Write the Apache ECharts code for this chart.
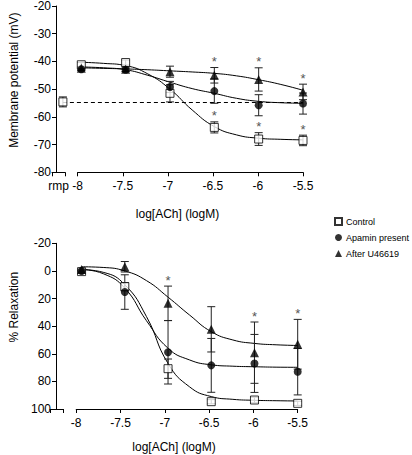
<!DOCTYPE html>
<html><head><meta charset="utf-8">
<script src="https://cdn.jsdelivr.net/npm/echarts@6/dist/echarts.min.js"></script>
<style>html,body{margin:0;padding:0;background:#fff}#c{width:412px;height:455px}</style>
</head><body><div id="c"></div>
<script>
// ---------- data ----------
const X_TICKS = [-8, -7.5, -7, -6.5, -6, -5.5];
const CURVE_X = [-8, -7.75, -7.5, -7.25, -7, -6.75, -6.5, -6.25, -6, -5.75, -5.5];
const SERIES_NAMES = ['Control', 'Apamin present', 'After U46619'];

// top panel: membrane potential (mV)
const RMP_VAL = -54.6, RMP_ERR = 1.8;
const ctrlMV = [-41.2, -40.4, -51.5, -63.8, -68.0, -68.5];
const ctrlMVErr = [0.8, 0.9, 3.1, 2.0, 2.3, 1.9];
const apaMV = [-42.8, -43.0, -49.2, -50.7, -55.8, -55.2];
const apaMVErr = [0.5, 0.6, 2.0, 4.4, 3.8, 3.8];
const trMV = [-42.5, -42.8, -43.7, -45.0, -46.5, -51.0];
const trMVErr = [0.6, 0.8, 2.0, 2.8, 4.2, 2.8];
const ctrlMVCurve = [-40.3, -40.7, -41.5, -44.5, -50.0, -57.5, -63.5, -66.5, -67.7, -68.1, -68.3];
const apaMVCurve = [-42.0, -42.3, -43.0, -45.0, -47.5, -49.8, -51.5, -53.3, -54.4, -54.9, -55.1];
const trMVCurve = [-42.3, -42.5, -42.7, -43.0, -43.4, -43.8, -44.3, -45.2, -46.6, -48.3, -50.4];
const ctrlMVStar = [0, 0, 0, 1, 1, 1];
const trMVStar = [0, 0, 0, 1, 1, 1];

// bottom panel: % relaxation
const ctrlR = [0.5, 11.4, 70.8, 94.7, 93.5, 95.9];
const ctrlRErr = [1, 3, 7, 1.5, 2, 1.5];
const apaR = [0, 15.3, 58.9, 68.4, 67.0, 73.0];
const apaRErr = [0.5, 12.5, 23, 19.5, 21, 16.8];
const trR = [-1, -3.0, 23.5, 42.3, 59.2, 53.1];
const trRErr = [0.5, 3.8, 12.5, 16.4, 22.2, 18];
const ctrlRCurve = [-1, 1, 10, 33, 67, 84, 91, 93, 93.7, 94, 94.2];
const apaRCurve = [-1, 2, 12.5, 36, 56, 64.5, 68, 69, 69.4, 69.7, 69.8];
const trRCurve = [-3, -2.5, 0, 7, 19, 32, 44, 50, 52.5, 53.5, 54];
const trRStar = [0, 0, 1, 0, 1, 1];

const TOP_Y_TICKS = {min: -80, max: -20, interval: 10};
const BOT_Y_TICKS = {min: -20, max: 100, interval: 20};

// ---------- layout ----------
const FONT = 'Liberation Sans';
const TOP_MIN = -8.2852;   // x value at the y-axis line (top panel)
const RMP_X = -8.2075;     // x position of the rmp point
const BOT_MIN = -8.296;

const zip = (xs, ys) => xs.map((x, i) => [x, ys[i]]);
const errData = (vals, errs, stars) => X_TICKS.map((x, i) => [x, vals[i], errs[i], stars ? stars[i] : 0]);

function errorBarRender(params, api) {
  const x = api.value(0), y = api.value(1), e = api.value(2), star = api.value(3);
  const p1 = api.coord([x, y - e]), p2 = api.coord([x, y + e]);
  const top = Math.min(p1[1], p2[1]), bot = Math.max(p1[1], p2[1]);
  const cx = p1[0], w = 4;
  const st = {stroke: '#222', lineWidth: 1};
  const children = [
    {type: 'line', shape: {x1: cx, y1: top, x2: cx, y2: bot}, style: st},
    {type: 'line', shape: {x1: cx - w, y1: top, x2: cx + w, y2: top}, style: st},
    {type: 'line', shape: {x1: cx - w, y1: bot, x2: cx + w, y2: bot}, style: st}
  ];
  if (star) {
    children.push({type: 'text', x: cx, y: top - 6,
      style: {text: '*', fill: '#555', font: '13px ' + FONT, align: 'center', verticalAlign: 'middle'}});
  }
  return {type: 'group', children};
}

const markerStyles = [
  {symbol: 'rect', symbolSize: 8, itemStyle: {color: '#fff', borderColor: '#000', borderWidth: 1}},
  {symbol: 'circle', symbolSize: 8, itemStyle: {color: '#000'}},
  {symbol: 'triangle', symbolSize: 9, itemStyle: {color: '#000'}}
];

function panelSeries(xi, yi, vals, errs, curves, stars) {
  const out = [];
  for (let k = 0; k < 3; k++) {
    out.push({type: 'line', name: SERIES_NAMES[k] + ' fit', xAxisIndex: xi, yAxisIndex: yi,
      data: zip(CURVE_X, curves[k]), smooth: 0.5, showSymbol: false, symbol: 'none',
      lineStyle: {color: '#000', width: 1}, z: 2, silent: true});
    out.push({type: 'custom', name: SERIES_NAMES[k] + ' err', xAxisIndex: xi, yAxisIndex: yi,
      data: errData(vals[k], errs[k], stars[k]), renderItem: errorBarRender,
      encode: {x: 0, y: 1}, z: 3, silent: true});
    out.push(Object.assign({type: 'scatter', name: SERIES_NAMES[k], xAxisIndex: xi, yAxisIndex: yi,
      data: zip(X_TICKS, vals[k]), z: 4}, markerStyles[k]));
  }
  return out;
}

const axisLabelStyle = {color: '#000', fontFamily: FONT, fontSize: 12};
const axisLineStyle = {show: true, onZero: false, lineStyle: {color: '#000', width: 1}};
const axisTickStyle = {show: true, length: 4, lineStyle: {color: '#000'}};

const option = {
  animation: false,
  backgroundColor: '#fff',
  grid: [
    {left: 52, right: 109, top: 5.5, bottom: 282.7},
    {left: 52, right: 347, top: 5.5, bottom: 282.7},
    {left: 77.7, right: 109, top: 5.5, bottom: 282.7},
    {left: 50, right: 114.3, top: 243.3, bottom: 46},
    {left: 50, right: 349, top: 243.3, bottom: 46},
    {left: 76.2, right: 114.3, top: 243.3, bottom: 46}
  ],
  xAxis: [
    {gridIndex: 0, type: 'value', min: TOP_MIN, max: -5.5, show: false},
    {gridIndex: 1, type: 'category', data: ['rmp'], axisLine: axisLineStyle, axisTick: axisTickStyle,
      axisLabel: Object.assign({margin: 8}, axisLabelStyle)},
    {gridIndex: 2, type: 'value', min: -8, max: -5.5, interval: 0.5, axisLine: axisLineStyle,
      axisTick: axisTickStyle, splitLine: {show: false}, axisLabel: Object.assign({margin: 8}, axisLabelStyle)},
    {gridIndex: 3, type: 'value', min: BOT_MIN, max: -5.5, show: false},
    {gridIndex: 4, type: 'category', data: [''], axisLine: axisLineStyle, axisTick: axisTickStyle,
      axisLabel: {show: false}},
    {gridIndex: 5, type: 'value', min: -8, max: -5.5, interval: 0.5, axisLine: axisLineStyle,
      axisTick: axisTickStyle, splitLine: {show: false}, axisLabel: Object.assign({margin: 8}, axisLabelStyle)}
  ],
  yAxis: [
    {gridIndex: 0, type: 'value', min: TOP_Y_TICKS.min, max: TOP_Y_TICKS.max, interval: TOP_Y_TICKS.interval,
      axisLine: axisLineStyle, axisTick: axisTickStyle, splitLine: {show: false},
      axisLabel: Object.assign({margin: 5}, axisLabelStyle),
      name: 'Membrane potential (mV)', nameLocation: 'middle', nameGap: 36,
      nameTextStyle: {color: '#000', fontFamily: FONT, fontSize: 12, padding: [0, 0, 0, 18]}},
    {gridIndex: 1, type: 'value', min: -80, max: -20, show: false},
    {gridIndex: 2, type: 'value', min: -80, max: -20, show: false},
    {gridIndex: 3, type: 'value', inverse: true, min: BOT_Y_TICKS.min, max: BOT_Y_TICKS.max, interval: BOT_Y_TICKS.interval,
      axisLine: axisLineStyle, axisTick: axisTickStyle, splitLine: {show: false},
      axisLabel: Object.assign({margin: 5}, axisLabelStyle),
      name: '% Relaxation', nameLocation: 'middle', nameGap: 36,
      nameTextStyle: {color: '#000', fontFamily: FONT, fontSize: 12, padding: [0, 0, 0, 38]}},
    {gridIndex: 4, type: 'value', inverse: true, min: -20, max: 100, show: false},
    {gridIndex: 5, type: 'value', inverse: true, min: -20, max: 100, show: false}
  ],
  legend: {
    orient: 'vertical', left: 334, top: 217, itemWidth: 7, itemHeight: 7, itemGap: 7, padding: 0,
    textStyle: {color: '#000', fontFamily: FONT, fontSize: 9, padding: [0, 0, 0, -1]},
    data: [{name: 'Control', icon: 'rect'}, {name: 'Apamin present', icon: 'circle'}, {name: 'After U46619', icon: 'triangle'}],
    selectedMode: false
  },
  series: [].concat(
    [{type: 'scatter', name: 'Control', xAxisIndex: 0, yAxisIndex: 0, data: [[RMP_X, RMP_VAL]], z: 5,
      symbol: 'rect', symbolSize: 8, itemStyle: {color: '#fff', borderColor: '#000', borderWidth: 1},
      markLine: {silent: true, symbol: ['none', 'none'], label: {show: false},
        lineStyle: {type: [4, 3], color: '#000', width: 1},
        data: [[{coord: [RMP_X, RMP_VAL]}, {coord: [-5.5, RMP_VAL]}]]}},
     {type: 'custom', name: 'rmp err', xAxisIndex: 0, yAxisIndex: 0, data: [[RMP_X, RMP_VAL, RMP_ERR, 0]],
      renderItem: errorBarRender, encode: {x: 0, y: 1}, z: 3, silent: true}],
    panelSeries(0, 0, [ctrlMV, apaMV, trMV], [ctrlMVErr, apaMVErr, trMVErr],
      [ctrlMVCurve, apaMVCurve, trMVCurve], [ctrlMVStar, null, trMVStar]),
    panelSeries(3, 3, [ctrlR, apaR, trR], [ctrlRErr, apaRErr, trRErr],
      [ctrlRCurve, apaRCurve, trRCurve], [null, null, trRStar])
  ),
  graphic: [
    {type: 'text', x: 177.5, y: 214, style: {text: 'log[ACh] (logM)', fill: '#000', font: '12px ' + FONT, align: 'center', verticalAlign: 'middle'}},
    {type: 'text', x: 174, y: 447, style: {text: 'log[ACh] (logM)', fill: '#000', font: '12px ' + FONT, align: 'center', verticalAlign: 'middle'}}
  ]
};

const chart = echarts.init(document.getElementById('c'), null, {renderer: 'svg'});
chart.setOption(option);
</script>
</body></html>
